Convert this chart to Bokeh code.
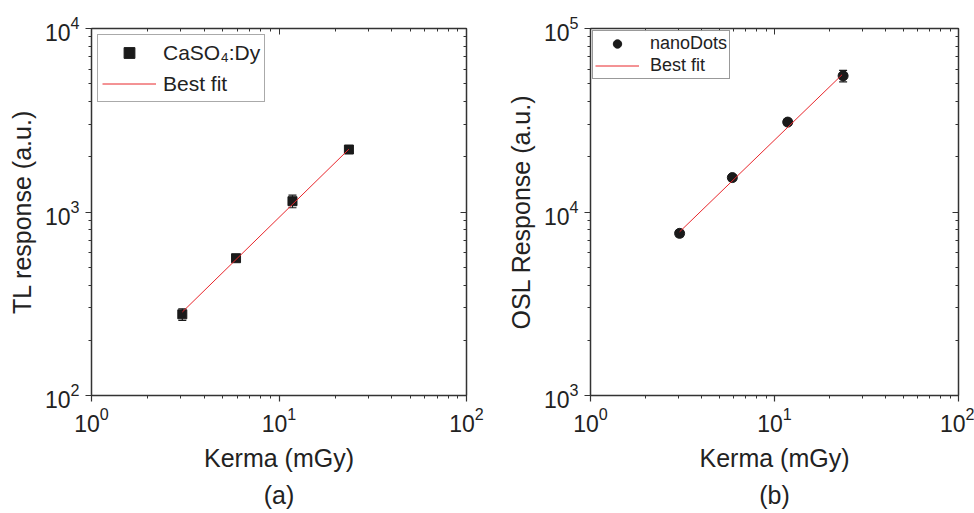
from bokeh.plotting import figure
from bokeh.layouts import row
from bokeh.models import (LogAxis, LogTicker, Whisker, TeeHead, ColumnDataSource,
                          CustomJSTickFormatter, Title, Legend, LegendItem)
from bokeh.embed import file_html
from bokeh.resources import INLINE

# ---- data ----
kerma = [3.05, 5.9, 11.8, 23.6]
tl_resp = [277, 560, 1145, 2190]
tl_err = [20, 15, 90, 40]
tl_fit_x = [3.05, 23.6]
tl_fit_y = [285, 2200]

osl_resp = [7650, 15400, 30900, 55200]
osl_err = [300, 600, 1200, 4000]
osl_fit_x = [3.05, 23.3]
osl_fit_y = [7800, 56000]

FONT = "Liberation Sans"
DARK = "#1a1a1a"
RED = "#e8262b"
H = 513


def make_fig(width, yrange, ylabel, sub, bl, br, bt, bb):
    p = figure(width=width, height=H, x_axis_type="log", y_axis_type="log",
               x_range=(1, 100), y_range=yrange, output_backend="svg",
               toolbar_location=None, min_border_left=bl, min_border_right=br,
               min_border_top=bt, min_border_bottom=bb)
    p.xgrid.visible = False
    p.ygrid.visible = False
    p.outline_line_color = None
    for ax in (p.xaxis[0], p.yaxis[0]):
        ax.ticker = LogTicker(num_minor_ticks=10)
        ax.axis_line_color = "#333333"
        ax.axis_line_width = 1.5
        ax.major_tick_line_color = "#333333"
        ax.minor_tick_line_color = "#333333"
        ax.major_tick_line_width = 1.2
        ax.major_tick_out = 6
        ax.major_tick_in = 0
        ax.minor_tick_out = 3
        ax.minor_tick_in = 0
        ax.major_label_text_font = FONT
        ax.major_label_text_font_size = "23px"
        ax.major_label_text_color = "#222222"
        ax.axis_label_text_font = FONT
        ax.axis_label_text_font_size = "25px"
        ax.axis_label_text_font_style = "normal"
        ax.axis_label_text_color = "#222222"
    p.xaxis[0].axis_label = "Kerma (mGy)"
    p.yaxis[0].axis_label = ylabel
    p.xaxis[0].axis_label_standoff = 9
    p.yaxis[0].axis_label_standoff = 6
    p.yaxis[0].major_label_standoff = 6
    blank = CustomJSTickFormatter(code="return ''")
    for place in ("above", "right"):
        a = LogAxis(ticker=LogTicker(num_minor_ticks=10), formatter=blank,
                    axis_line_color="#333333", axis_line_width=1.5,
                    major_tick_line_color="#333333", minor_tick_line_color="#333333",
                    major_tick_in=6, major_tick_out=0, minor_tick_in=3, minor_tick_out=0,
                    major_label_standoff=0)
        p.add_layout(a, place)
    p.add_layout(Title(text=sub, align="center", text_font=FONT,
                       text_font_size="25px", text_font_style="normal",
                       text_color="#222222", standoff=9), "below")
    return p


# ---- (a) TL ----
p1 = make_fig(490, (100, 10000), "TL response (a.u.)", "(a)", 91, 24, 28, H - 397)
src1 = ColumnDataSource(dict(x=kerma, y=tl_resp,
                             lo=[v - e for v, e in zip(tl_resp, tl_err)],
                             hi=[v + e for v, e in zip(tl_resp, tl_err)]))
p1.add_layout(Whisker(source=src1, base="x", upper="hi", lower="lo",
                      line_color=DARK, line_width=1.2,
                      upper_head=TeeHead(size=8, line_color=DARK, line_width=1.2),
                      lower_head=TeeHead(size=8, line_color=DARK, line_width=1.2)))
r1 = p1.scatter("x", "y", source=src1, marker="square", size=9,
                fill_color=DARK, line_color=DARK)
l1 = p1.line(tl_fit_x, tl_fit_y, line_color=RED, line_width=1)
leg1 = Legend(items=[LegendItem(label="CaSO\u2084:Dy", renderers=[r1]),
                     LegendItem(label="Best fit", renderers=[l1])],
              location="top_left", label_text_font=FONT, label_text_font_size="21px",
              label_text_color="#222222", border_line_color="#555555",
              border_line_width=1.2, glyph_width=54, label_standoff=7,
              padding=4, spacing=4, margin=6, label_height=27, glyph_height=27)
p1.add_layout(leg1)

# ---- (b) OSL ----
p2 = make_fig(484, (1000, 100000), "OSL Response (a.u.)", "(b)", 100, 16, 22, H - 397)
src2 = ColumnDataSource(dict(x=kerma, y=osl_resp,
                             lo=[v - e for v, e in zip(osl_resp, osl_err)],
                             hi=[v + e for v, e in zip(osl_resp, osl_err)]))
p2.add_layout(Whisker(source=src2, base="x", upper="hi", lower="lo",
                      line_color=DARK, line_width=1.2,
                      upper_head=TeeHead(size=8, line_color=DARK, line_width=1.2),
                      lower_head=TeeHead(size=8, line_color=DARK, line_width=1.2)))
r2 = p2.scatter("x", "y", source=src2, marker="circle", size=10,
                fill_color=DARK, line_color=DARK)
l2 = p2.line(osl_fit_x, osl_fit_y, line_color=RED, line_width=1)
leg2 = Legend(items=[LegendItem(label="nanoDots", renderers=[r2]),
                     LegendItem(label="Best fit", renderers=[l2])],
              location="top_left", label_text_font=FONT, label_text_font_size="18px",
              label_text_color="#222222", border_line_color="#333333",
              border_line_width=1.2, glyph_width=44, label_standoff=11,
              padding=2, spacing=1, margin=2, label_height=21, glyph_height=21)
p2.add_layout(leg2)

layout = row(p1, p2)
open("out.html", "w").write(file_html(layout, INLINE))
